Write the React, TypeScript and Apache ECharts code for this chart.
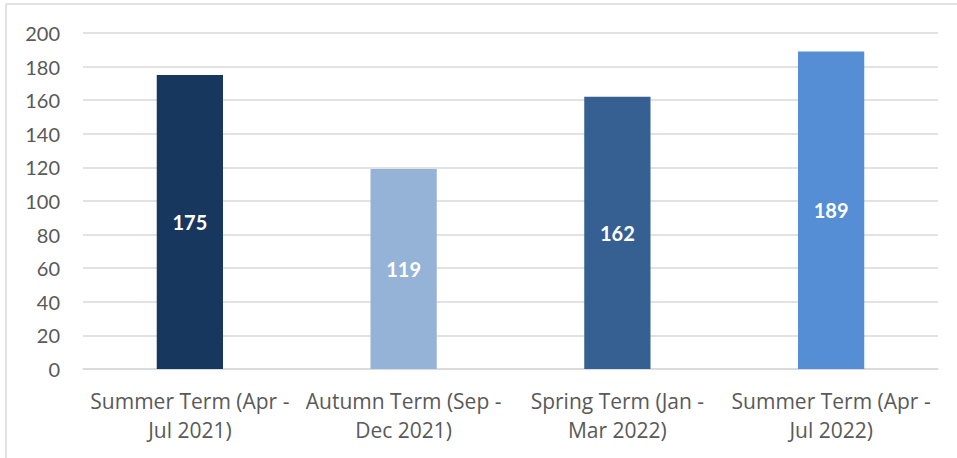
import React, { useEffect, useRef } from "react";
import * as echarts from "echarts";

const categories = [
  "Summer Term (Apr -\nJul 2021)",
  "Autumn Term (Sep -\nDec 2021)",
  "Spring Term (Jan -\nMar 2022)",
  "Summer Term (Apr -\nJul 2022)",
];
const values = [175, 119, 162, 189];
const barColors = ["#17375E", "#95B3D7", "#366092", "#558ED5"];
const yTicks = { min: 0, max: 200, interval: 20 };

export default function App() {
  const ref = useRef<HTMLDivElement>(null);
  useEffect(() => {
    if (!ref.current) return;
    const chart = echarts.init(ref.current, null, { renderer: "svg" });
    chart.setOption({
      animation: false,
      backgroundColor: "#ffffff",
      textStyle: { fontFamily: "Lato" },
      graphic: [
        { type: "line", shape: { x1: 6, y1: 4, x2: 957, y2: 4 }, style: { stroke: "#d9d9d9", lineWidth: 1.5 } },
        { type: "line", shape: { x1: 6, y1: 4, x2: 6, y2: 458 }, style: { stroke: "#d9d9d9", lineWidth: 1.5 } },
      ],
      grid: { left: 83, right: 19, top: 33, bottom: 89, containLabel: false },
      xAxis: {
        type: "category",
        data: categories,
        axisLine: { lineStyle: { color: "#d9d9d9", width: 1.5 } },
        axisTick: { show: false },
        axisLabel: { color: "#595959", fontSize: 21, fontFamily: "Open Sans", lineHeight: 29, margin: 17, interval: 0 },
      },
      yAxis: {
        type: "value",
        min: yTicks.min,
        max: yTicks.max,
        interval: yTicks.interval,
        axisLine: { show: false },
        axisTick: { show: false },
        splitLine: { lineStyle: { color: "#d9d9d9", width: 1.5 } },
        axisLabel: { color: "#595959", fontSize: 20, margin: 23 },
      },
      series: [
        {
          type: "bar",
          barWidth: "31%",
          data: values.map((v, i) => ({ value: v, itemStyle: { color: barColors[i] } })),
          label: {
            show: true,
            position: "inside",
            color: "#ffffff",
            fontWeight: "bold",
            fontSize: 20,
            fontFamily: "Lato",
          },
        },
      ],
    });
    return () => chart.dispose();
  }, []);
  return (
    <div
      ref={ref}
      style={{ position: "fixed", left: 0, top: 0, width: 957, height: 458 }}
    />
  );
}
